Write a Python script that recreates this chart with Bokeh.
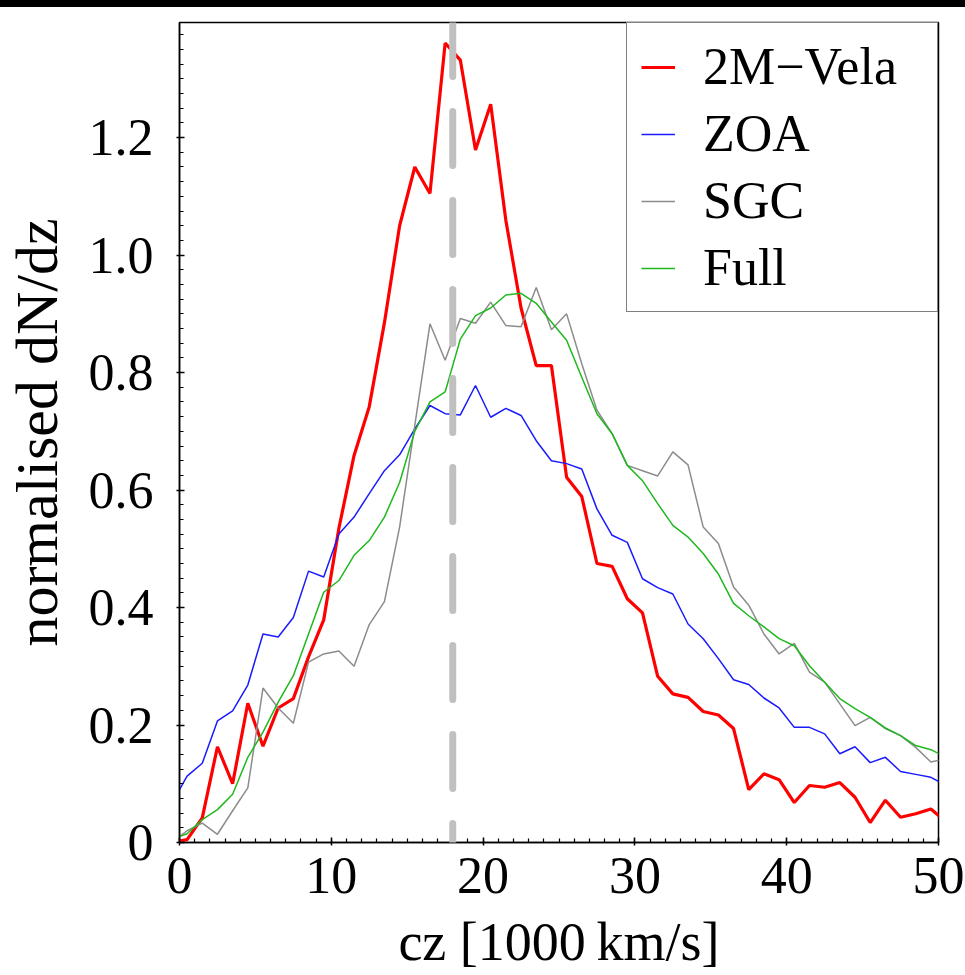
import numpy as np
from bokeh.plotting import figure
from bokeh.models import (FixedTicker, Span, Legend, LegendItem, CustomJSTickFormatter,
                          Div, Range1d, ColumnDataSource)
from bokeh.layouts import column
from bokeh.embed import file_html
from bokeh.resources import INLINE

# ---------------- data (bin centres in 1000 km/s) ----------------
cz = np.arange(-0.5, 51.0, 1.0)

vela_2m = [0.0, 0.005, 0.042, 0.163, 0.100, 0.237, 0.164, 0.229, 0.245, 0.316,
           0.379, 0.535, 0.659, 0.742, 0.885, 1.050, 1.150, 1.105, 1.361, 1.332,
           1.179, 1.257, 1.059, 0.910, 0.812, 0.812, 0.622, 0.589, 0.475, 0.470,
           0.415, 0.391, 0.283, 0.253, 0.247, 0.223, 0.217, 0.194, 0.090, 0.117,
           0.107, 0.068, 0.097, 0.094, 0.102, 0.077, 0.034, 0.072, 0.043, 0.049,
           0.057, 0.035]

zoa = [0.067, 0.113, 0.135, 0.207, 0.224, 0.268, 0.355, 0.350, 0.383, 0.462,
       0.452, 0.525, 0.554, 0.594, 0.633, 0.660, 0.704, 0.744, 0.730, 0.728,
       0.778, 0.724, 0.739, 0.727, 0.684, 0.650, 0.645, 0.636, 0.568, 0.523,
       0.511, 0.449, 0.434, 0.423, 0.372, 0.347, 0.313, 0.277, 0.269, 0.246,
       0.229, 0.196, 0.196, 0.185, 0.151, 0.163, 0.136, 0.145, 0.121, 0.116,
       0.111, 0.097]

sgc = [0.0, 0.020, 0.033, 0.014, 0.054, 0.093, 0.263, 0.229, 0.203, 0.307,
       0.321, 0.326, 0.300, 0.371, 0.410, 0.537, 0.710, 0.883, 0.821, 0.892,
       0.884, 0.920, 0.880, 0.878, 0.945, 0.873, 0.900, 0.815, 0.736, 0.696,
       0.642, 0.633, 0.624, 0.665, 0.643, 0.537, 0.509, 0.435, 0.404, 0.355,
       0.321, 0.339, 0.290, 0.273, 0.236, 0.199, 0.213, 0.194, 0.182, 0.162,
       0.137, 0.143]

full = [0.005, 0.015, 0.039, 0.056, 0.082, 0.145, 0.188, 0.239, 0.284, 0.355,
        0.426, 0.446, 0.489, 0.514, 0.554, 0.613, 0.700, 0.750, 0.767, 0.857,
        0.897, 0.910, 0.932, 0.935, 0.918, 0.886, 0.855, 0.792, 0.730, 0.696,
        0.642, 0.616, 0.577, 0.540, 0.520, 0.492, 0.457, 0.407, 0.386, 0.367,
        0.347, 0.335, 0.301, 0.273, 0.245, 0.228, 0.213, 0.195, 0.182, 0.165,
        0.158, 0.145]

series_names = ["2M\u2212Vela", "ZOA", "SGC", "Full"]
vela_cz = 18.0
x_ticks = [0, 10, 20, 30, 40, 50]
y_ticks = [0, 0.2, 0.4, 0.6, 0.8, 1.0, 1.2]

FONT = "Liberation Serif"

src = ColumnDataSource(dict(cz=cz, vela=vela_2m, zoa=zoa, sgc=sgc, full=full))

p = figure(width=965, height=968, output_backend="svg", toolbar_location=None,
           x_range=Range1d(0, 50), y_range=Range1d(0, 1.396),
           min_border_left=178, min_border_right=27, min_border_top=15, min_border_bottom=133)
p.background_fill_color = "white"
p.border_fill_color = "white"
p.outline_line_color = "black"
p.outline_line_width = 1.5
p.xgrid.visible = False
p.ygrid.visible = False

r_vela = p.line("cz", "vela", source=src, line_color="#ff0000", line_width=3.2)
r_zoa = p.line("cz", "zoa", source=src, line_color="#1a1aff", line_width=1.5)
r_sgc = p.line("cz", "sgc", source=src, line_color="#8c8c8c", line_width=1.5)
r_full = p.line("cz", "full", source=src, line_color="#1fb81f", line_width=1.5)

span = Span(location=vela_cz, dimension="height", line_color="#c0c0c0", line_width=7,
            line_dash="54 35", line_cap="round")
p.add_layout(span)

# axes
p.xaxis.ticker = FixedTicker(ticks=x_ticks, minor_ticks=list(np.arange(0, 50.5, 1.0)))
p.yaxis.ticker = FixedTicker(ticks=y_ticks, minor_ticks=list(np.arange(0, 1.40, 0.025)))
p.yaxis.formatter = CustomJSTickFormatter(code="return tick == 0 ? '0' : tick.toFixed(1);")
p.xaxis.formatter = CustomJSTickFormatter(code="return tick.toFixed(0);")

for ax in (p.xaxis[0], p.yaxis[0]):
    ax.axis_line_color = "black"
    ax.axis_line_width = 1.5
    ax.major_tick_line_color = "black"
    ax.major_tick_line_width = 1.5
    ax.minor_tick_line_color = "black"
    ax.minor_tick_line_width = 1.2
    ax.major_tick_in = 5
    ax.major_tick_out = 3
    ax.minor_tick_in = 4
    ax.minor_tick_out = 0
    ax.major_label_text_font = FONT
    ax.major_label_text_font_size = "52px"
    ax.major_label_text_color = "black"
    ax.axis_label_text_font = FONT
    ax.axis_label_text_font_style = "normal"
    ax.axis_label_text_color = "black"

p.xaxis.axis_label = "cz [1000\u2009km/s]"
p.yaxis.axis_label = "normalised dN/dz"
p.xaxis.axis_label_text_font_size = "54px"
p.yaxis.axis_label_text_font_size = "60px"
p.xaxis.major_label_standoff = 12
p.xaxis.axis_label_standoff = 16
p.yaxis.major_label_standoff = 23
p.yaxis.axis_label_standoff = 16

legend = Legend(items=[LegendItem(label=series_names[0], renderers=[r_vela]),
                       LegendItem(label=series_names[1], renderers=[r_zoa]),
                       LegendItem(label=series_names[2], renderers=[r_sgc]),
                       LegendItem(label=series_names[3], renderers=[r_full])],
                location="top_right", margin=0, padding=14, spacing=8,
                label_standoff=28, glyph_width=34, glyph_height=50, label_height=50,
                label_width=220,
                label_text_font=FONT, label_text_font_size="52px", label_text_color="black",
                border_line_color="black", border_line_width=1.5,
                background_fill_color="white", background_fill_alpha=1.0)
p.add_layout(legend)

top_band = Div(text="", width=965, height=7, margin=0, styles={"background-color": "black"})
layout = column(top_band, p, spacing=0)

open("out.html", "w").write(file_html(layout, INLINE))
